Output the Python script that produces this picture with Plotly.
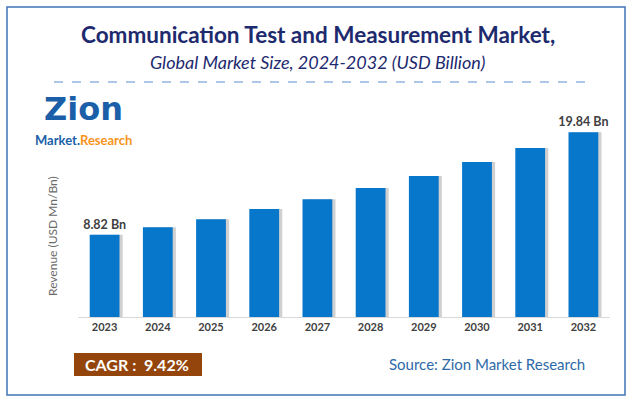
import plotly.graph_objects as go

# chart data
years = ['2023', '2024', '2025', '2026', '2027', '2028', '2029', '2030', '2031', '2032']
revenue = [8.82, 9.64, 10.5, 11.58, 12.65, 13.84, 15.13, 16.63, 18.14, 19.84]
bar_labels = ['8.82 Bn', '', '', '', '', '', '', '', '', '19.84 Bn']

title_text = 'Communication Test and Measurement Market,'
subtitle_text = 'Global Market Size, 2024-2032 (USD Billion)'
cagr_text = 'CAGR :  9.42%'
source_text = 'Source: Zion Market Research'

FONT = 'Lato'
BAR_BLUE = '#0777CB'
NAVY = '#1E2A6E'

# plot area in pixels: left 78, top 112, width 532, height 205
L, T, W, H = 78, 112, 532, 205
def px(x):
    return (x - L) / W
def py(y):
    return (T + H - y) / H

fig = go.Figure()

# soft shadow to the right of each bar
fig.add_trace(go.Bar(
    x=years, y=revenue, width=0.56, offset=-0.22,
    marker=dict(color='rgba(120,120,120,0.35)', line=dict(width=0)),
    hoverinfo='skip', showlegend=False
))
fig.add_trace(go.Bar(
    x=years, y=revenue, width=0.56, offset=-0.28,
    marker=dict(color=BAR_BLUE, line=dict(width=0)),
    text=bar_labels, textposition='outside', cliponaxis=False,
    constraintext='none',
    textfont=dict(family=FONT, size=12.5, color='#404040', weight='bold'),
    showlegend=False
))

fig.update_layout(
    width=632, height=402,
    margin=dict(l=L, r=632 - L - W, t=T, b=402 - T - H),
    paper_bgcolor='white', plot_bgcolor='white',
    barmode='overlay',
    font=dict(family=FONT),
    xaxis=dict(
        showgrid=False, showline=True, linecolor='#D9D9D9', linewidth=1,
        ticks='', tickfont=dict(family=FONT, size=11, color='#404040', weight='bold'),
        range=[-0.5, 9.5]
    ),
    yaxis=dict(visible=False, range=[0, 22]),
    shapes=[
        # outer frame
        dict(type='rect', xref='paper', yref='paper', x0=px(7), x1=px(625),
             y0=py(395), y1=py(7),
             line=dict(color='#3F74B5', width=1.5), fillcolor='rgba(0,0,0,0)'),
        # dashed separator under the title
        dict(type='line', xref='paper', yref='paper', x0=px(54), x1=px(585),
             y0=py(82), y1=py(82),
             line=dict(color='#5B8FD0', width=1, dash='dash')),
        # CAGR box
        dict(type='rect', xref='paper', yref='paper', x0=px(74), x1=px(202),
             y0=py(376), y1=py(353), line=dict(width=0), fillcolor='#94450B'),
    ],
    annotations=[
        dict(text=title_text, xref='paper', yref='paper', x=px(318), y=py(34),
             showarrow=False, xanchor='center', yanchor='middle',
             font=dict(family=FONT, size=22.5, color=NAVY, weight='bold')),
        dict(text=subtitle_text, xref='paper', yref='paper', x=px(317), y=py(62),
             showarrow=False, xanchor='center', yanchor='middle',
             font=dict(family=FONT, size=18, color=NAVY, style='italic')),
        dict(text='Revenue (USD Mn/Bn)', xref='paper', yref='paper', x=px(52), y=py(236),
             textangle=-90, showarrow=False, xanchor='center', yanchor='middle',
             font=dict(family=FONT, size=12, color='#6A6A6A')),
        # logo
        dict(text='<b>Zion</b>', xref='paper', yref='paper', x=px(83), y=py(109),
             showarrow=False, xanchor='center', yanchor='middle',
             font=dict(family='DejaVu Sans', size=32, color='#1B5FA8')),
        dict(text='<b><span style="color:#1B5FA8">Market.</span>'
                   '<span style="color:#F7941D">Research</span></b>',
             xref='paper', yref='paper', x=px(83), y=py(140),
             showarrow=False, xanchor='center', yanchor='middle',
             font=dict(family=FONT, size=13)),
        dict(text=cagr_text, xref='paper', yref='paper', x=px(137), y=py(364.5),
             showarrow=False, xanchor='center', yanchor='middle',
             font=dict(family=FONT, size=16, color='white', weight='bold')),
        dict(text=source_text, xref='paper', yref='paper', x=px(487), y=py(364),
             showarrow=False, xanchor='center', yanchor='middle',
             font=dict(family=FONT, size=15, color='#2E6AA8')),
    ],
)

fig.write_html('out.html', config={'displayModeBar': False},
               post_script="document.body.style.margin='0';")
